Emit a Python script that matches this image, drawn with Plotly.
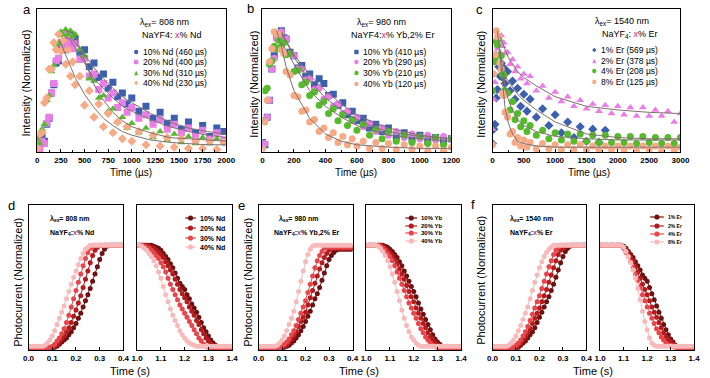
import plotly.graph_objects as go

W, H = 710, 378

# ---------------- Panel a: NaYF4:x% Nd, 808 nm ----------------
t_a = [0, 25, 50, 75, 100, 125, 150, 175, 200, 225, 250, 275, 300, 325, 350, 375, 400, 450, 500, 550,
       600, 650, 700, 750, 800, 850, 900, 950, 1000, 1075, 1150, 1225, 1300, 1375, 1450, 1525, 1600, 1675,
       1750, 1825, 1900, 1975]
a_nd10 = [0.10, 0.04, 0.12, 0.08, 0.22, 0.27, 0.48, 0.55, 0.73, 0.75, 0.88, 0.84, 0.95, 0.90, 0.97, 0.89, 0.93,
          0.82, 0.84, 0.70, 0.73, 0.61, 0.64, 0.52, 0.57, 0.45, 0.48, 0.39, 0.44, 0.33, 0.37, 0.27, 0.32, 0.23,
          0.27, 0.18, 0.24, 0.15, 0.21, 0.12, 0.19, 0.16]
a_nd20 = [0.07, 0.02, 0.08, 0.06, 0.23, 0.28, 0.48, 0.56, 0.75, 0.77, 0.90, 0.85, 0.97, 0.90, 0.95, 0.85, 0.89,
          0.76, 0.77, 0.62, 0.64, 0.51, 0.56, 0.44, 0.48, 0.36, 0.40, 0.32, 0.36, 0.27, 0.30, 0.22, 0.26, 0.18,
          0.22, 0.15, 0.19, 0.12, 0.17, 0.10, 0.15, 0.09]
a_nd30 = [0.10, 0.06, 0.18, 0.22, 0.42, 0.46, 0.66, 0.71, 0.88, 0.89, 0.99, 0.96, 1.01, 0.97, 1.00, 0.95, 0.97,
          0.84, 0.79, 0.60, 0.58, 0.44, 0.46, 0.33, 0.35, 0.24, 0.28, 0.19, 0.23, 0.15, 0.19, 0.11, 0.16, 0.09,
          0.14, 0.07, 0.12, 0.06, 0.11, 0.06, 0.10, 0.07]
a_nd40 = [0.02, 0.14, 0.15, 0.40, 0.44, 0.68, 0.68, 0.90, 0.84, 0.97, 0.83, 0.92, 0.72, 0.84, 0.62, 0.74, 0.55,
          0.62, 0.38, 0.50, 0.28, 0.39, 0.20, 0.31, 0.15, 0.24, 0.10, 0.20, 0.08, 0.16, 0.05, 0.13, 0.04, 0.11,
          0.03, 0.10, 0.02, 0.08, 0.02, 0.08, 0.01, 0.07]
fit_a_t = [230, 300, 350, 400, 500, 600, 700, 800, 900, 1000, 1200, 1400, 1600, 1800, 2000]
fit_a_10 = [None, None, 0.94, 0.90, 0.80, 0.69, 0.60, 0.52, 0.45, 0.40, 0.31, 0.24, 0.19, 0.16, 0.14]
fit_a_20 = [None, 0.95, 0.92, 0.86, 0.73, 0.60, 0.52, 0.44, 0.37, 0.33, 0.26, 0.20, 0.16, 0.13, 0.11]
fit_a_30 = [None, 1.00, 0.99, 0.96, 0.76, 0.55, 0.42, 0.32, 0.25, 0.20, 0.15, 0.11, 0.10, 0.09, 0.08]
fit_a_40 = [0.93, 0.80, 0.70, 0.61, 0.47, 0.36, 0.27, 0.21, 0.16, 0.13, 0.09, 0.07, 0.06, 0.05, 0.05]
labels_a = ["10% Nd (460 µs)", "20% Nd (400 µs)", "30% Nd (310 µs)", "40% Nd (230 µs)"]

# ---------------- Panel b: NaYF4:x% Yb,2% Er, 980 nm ----------------
t_b = [0, 15, 30, 45, 60, 75, 90, 105, 120, 135, 150, 175, 200, 225, 250, 275, 300, 330, 360, 390,
       420, 450, 480, 510, 540, 570, 600, 640, 680, 720, 760, 800, 850, 900, 950, 1000, 1050, 1100, 1150, 1200]
b_yb10 = [0.07, 0.05, 0.28, 0.42, 0.68, 0.79, 0.95, 0.96, 1.00, 0.94, 0.93, 0.82, 0.79, 0.69, 0.71, 0.62, 0.64,
          0.55, 0.60, 0.56, 0.46, 0.47, 0.38, 0.40, 0.30, 0.33, 0.25, 0.27, 0.19, 0.22, 0.16, 0.19, 0.12, 0.15,
          0.10, 0.13, 0.08, 0.11, 0.08, 0.10]
b_yb20 = [0.05, 0.06, 0.28, 0.42, 0.68, 0.77, 0.93, 0.93, 0.99, 0.92, 0.93, 0.81, 0.79, 0.68, 0.68, 0.59, 0.60,
          0.51, 0.52, 0.43, 0.45, 0.37, 0.39, 0.31, 0.33, 0.25, 0.28, 0.20, 0.23, 0.16, 0.19, 0.13, 0.16, 0.11,
          0.14, 0.10, 0.13, 0.09, 0.12, 0.09]
b_yb30 = [0.25, 0.50, 0.52, 0.72, 0.75, 0.87, 0.85, 0.92, 0.87, 0.90, 0.80, 0.81, 0.66, 0.67, 0.55, 0.57, 0.46,
          0.49, 0.38, 0.41, 0.31, 0.35, 0.25, 0.30, 0.21, 0.26, 0.17, 0.22, 0.13, 0.18, 0.10, 0.16, 0.08, 0.13,
          0.07, 0.12, 0.06, 0.11, 0.05, 0.10]
b_yb40 = [0.02, 0.24, 0.42, 0.74, 0.85, 0.99, 0.97, 0.97, 0.84, 0.81, 0.66, 0.63, 0.46, 0.45, 0.33, 0.34, 0.24,
          0.26, 0.16, 0.19, 0.11, 0.15, 0.07, 0.12, 0.05, 0.10, 0.04, 0.08, 0.02, 0.07, 0.02, 0.06, 0.01, 0.05,
          0.01, 0.04, 0.00, 0.04, 0.00, 0.03]
fit_b_t = [90, 120, 150, 200, 300, 400, 500, 600, 700, 800, 1000, 1200]
fit_b_10 = [None, 0.99, 0.92, 0.80, 0.63, 0.50, 0.39, 0.30, 0.24, 0.19, 0.13, 0.10]
fit_b_20 = [None, 0.97, 0.91, 0.78, 0.58, 0.44, 0.34, 0.26, 0.20, 0.16, 0.12, 0.10]
fit_b_30 = [None, 0.90, 0.84, 0.72, 0.50, 0.37, 0.28, 0.21, 0.17, 0.13, 0.10, 0.08]
fit_b_40 = [1.00, 0.87, 0.70, 0.50, 0.27, 0.14, 0.08, 0.05, 0.04, 0.03, 0.02, 0.02]
labels_b = ["10% Yb (410 µs)", "20% Yb (290 µs)", "30% Yb (210 µs)", "40% Yb (120 µs)"]

# ---------------- Panel c: NaYF4:x% Er, 1540 nm ----------------
t_c = [0, 20, 40, 60, 80, 100, 120, 140, 160, 180, 200, 240, 280, 320, 360, 400, 450, 500, 550, 600,
       700, 800, 900, 1000, 1100, 1200, 1300, 1400, 1500, 1600, 1700, 1800, 1900, 2000, 2100, 2200, 2300,
       2400, 2500, 2600, 2700, 2800, 2900, 3000]
c_er1 = [0.06, 0.18, 0.22, 0.44, 0.51, 0.70, 0.62, 0.73, 0.61, 0.69, 0.56, 0.66, 0.50, 0.58, 0.43, 0.52, 0.37,
         0.47, 0.33, 0.43, 0.28, 0.35, 0.21, 0.30, 0.15, 0.24, 0.11, 0.20, 0.08, 0.18, 0.07, 0.17,
         None, None, None, None, None, None, None, None, None, None, None, None]
c_er2 = [0.18, 0.43, 0.57, 0.81, 0.85, 0.96, 0.92, 0.96, 0.87, 0.90, 0.81, 0.82, 0.72, 0.76, 0.66, 0.70, 0.60,
         0.64, 0.56, 0.62, 0.50, 0.54, 0.44, 0.49, 0.41, 0.45, 0.37, 0.42, 0.35, 0.39, 0.33, 0.38, 0.31, 0.37,
         0.30, 0.36, 0.29, 0.36, 0.29, 0.34, 0.29, 0.33, 0.24, 0.31]
c_er4 = [0.50, 0.74, 0.76, 0.91, 0.88, 0.93, 0.80, 0.79, 0.64, 0.63, 0.50, 0.48, 0.34, 0.41, 0.26, 0.31, 0.20,
         0.25, 0.16, 0.21, 0.13, 0.17, 0.10, 0.15, 0.09, 0.14, 0.08, 0.14, 0.08, 0.13, 0.07, 0.13, 0.07, 0.12,
         0.07, 0.12, 0.06, 0.12, 0.07, 0.11, 0.06, 0.11, 0.06, 0.11]
c_er8 = [0.05, 0.64, 0.80, 1.00, 0.95, 0.95, 0.73, 0.68, 0.48, 0.46, 0.32, 0.28, 0.14, 0.16, 0.07, 0.11, 0.04,
         0.09, 0.03, 0.07, 0.02, 0.06, 0.02, 0.05, 0.01, 0.05, 0.01, 0.05, 0.01, 0.04, 0.01, 0.04, 0.01, 0.04,
         0.01, 0.04, 0.00, 0.04, 0.01, 0.04, 0.00, 0.04, 0.01, 0.03]
fit_c_t = [80, 120, 160, 200, 250, 300, 400, 500, 700, 1000, 1500, 2000, 2500, 3000]
fit_c_1 = [None, 0.68, 0.66, 0.62, 0.58, 0.55, 0.47, 0.42, 0.34, 0.24, 0.14, 0.11, 0.10, 0.10]
fit_c_2 = [None, 0.95, 0.90, 0.84, 0.78, 0.74, 0.66, 0.61, 0.54, 0.45, 0.37, 0.34, 0.32, 0.31]
fit_c_4 = [None, 0.84, 0.68, 0.54, 0.43, 0.36, 0.26, 0.21, 0.16, 0.12, 0.10, 0.09, 0.09, 0.09]
fit_c_8 = [1.00, 0.78, 0.52, 0.36, 0.24, 0.16, 0.08, 0.06, 0.04, 0.03, 0.03, 0.03, 0.03, 0.03]
labels_c = ["1% Er (569 µs)", "2% Er (378 µs)", "4% Er (208 µs)", "8% Er (125 µs)"]

# ---------------- Photocurrent panels d, e, f ----------------
t_rise = [0.00, 0.01, 0.02, 0.03, 0.04, 0.05, 0.06, 0.07, 0.08, 0.09, 0.10, 0.11, 0.12, 0.13, 0.14, 0.15,
          0.16, 0.17, 0.18, 0.19, 0.20, 0.21, 0.22, 0.23, 0.24, 0.25, 0.26, 0.27, 0.28, 0.29, 0.30, 0.31,
          0.32, 0.33, 0.34, 0.35, 0.36, 0.37, 0.38, 0.39, 0.40]
t_fall = [1.00, 1.01, 1.02, 1.03, 1.04, 1.05, 1.06, 1.07, 1.08, 1.09, 1.10, 1.11, 1.12, 1.13, 1.14, 1.15,
          1.16, 1.17, 1.18, 1.19, 1.20, 1.21, 1.22, 1.23, 1.24, 1.25, 1.26, 1.27, 1.28, 1.29, 1.30, 1.31,
          1.32, 1.33, 1.34, 1.35, 1.36, 1.37, 1.38, 1.39, 1.40]

d_r10 = [0, 0, 0, 0, 0, 0, 0, 0, 0, 0, 0, .01, .02, .04, .06, .08, .10, .13, .16, .20, .24, .29, .34, .40, .46,
         .52, .58, .65, .72, .79, .86, .92, .96, .99, 1, 1, 1, 1, 1, 1, 1]
d_r20 = [0, 0, 0, 0, 0, 0, 0, 0, 0, 0, .01, .02, .04, .06, .09, .12, .16, .20, .25, .31, .37, .44, .51, .59,
         .67, .75, .83, .90, .95, .98, 1, 1, 1, 1, 1, 1, 1, 1, 1, 1, 1]
d_r30 = [0, 0, 0, 0, 0, 0, 0, 0, 0, .01, .02, .04, .07, .10, .14, .19, .25, .32, .40, .48, .56, .64, .72, .80,
         .87, .93, .97, .99, 1, 1, 1, 1, 1, 1, 1, 1, 1, 1, 1, 1, 1]
d_r40 = [.02, .02, .02, .02, .02, .02, .02, .03, .05, .08, .12, .17, .23, .29, .35, .41, .48, .55, .62, .69,
         .75, .81, .87, .92, .96, .98, 1, 1, 1, 1, 1, 1, 1, 1, 1, 1, 1, 1, 1, 1, 1]
d_f10 = [1, 1, 1, 1, 1, 1, 1, .99, .98, .97, .95, .92, .89, .86, .82, .78, .73, .68, .63, .60, .57, .52, .48,
         .43, .39, .35, .30, .25, .20, .16, .12, .08, .05, .03, .01, 0, 0, 0, 0, 0, 0]
d_f20 = [1, 1, 1, 1, 1, .99, .98, .97, .95, .93, .91, .88, .84, .80, .76, .72, .67, .62, .57, .53, .49, .45,
         .40, .36, .32, .27, .23, .18, .14, .10, .07, .04, .02, .01, 0, 0, 0, 0, 0, 0, 0]
d_f30 = [1, 1, 1, .99, .98, .97, .95, .93, .90, .87, .83, .79, .74, .68, .62, .57, .52, .47, .42, .38, .34,
         .30, .26, .22, .18, .14, .10, .07, .04, .02, .01, 0, 0, 0, 0, 0, 0, 0, 0, 0, 0]
d_f40 = [1, 1, .99, .97, .95, .92, .89, .85, .80, .74, .68, .60, .52, .45, .38, .32, .27, .22, .17, .13, .10,
         .07, .05, .04, .03, .02, .02, .02, .02, .02, .02, .02, .02, .02, .02, .02, .02, .02, .02, .02, .02]

e_r10 = [0, 0, 0, 0, 0, 0, 0, 0, 0, 0, 0, .01, .02, .03, .05, .07, .10, .13, .17, .21, .26, .31, .36, .42, .48,
         .53, .59, .66, .73, .80, .86, .90, .93, .95, .96, .96, .96, .96, .96, .96, .96]
e_r20 = [0, 0, 0, 0, 0, 0, 0, 0, 0, 0, .01, .02, .04, .06, .09, .12, .16, .21, .26, .30, .35, .42, .49, .56,
         .63, .70, .77, .83, .88, .92, .95, .97, .97, .97, .97, .97, .97, .97, .97, .97, .97]
e_r30 = [0, 0, 0, 0, 0, 0, 0, 0, 0, 0, .02, .04, .06, .09, .13, .17, .22, .28, .34, .40, .46, .54, .62, .70,
         .78, .85, .90, .94, .97, .98, .98, .98, .98, .98, .98, .98, .98, .98, .98, .98, .98]
e_r40 = [.02, .02, .02, .02, .02, .02, .02, .02, .03, .05, .08, .12, .17, .23, .29, .36, .45, .55, .65, .75,
         .84, .91, .96, .99, 1, 1, 1, 1, 1, 1, 1, 1, 1, 1, 1, 1, 1, 1, 1, 1, 1]
e_f10 = [1, 1, 1, 1, 1, 1, 1, 1, .99, .98, .96, .94, .91, .88, .84, .80, .75, .70, .65, .60, .55, .50, .44,
         .38, .33, .28, .23, .18, .13, .09, .06, .04, .02, .01, 0, 0, 0, 0, 0, 0, 0]
e_f20 = [1, 1, 1, 1, 1, 1, 1, .99, .97, .95, .93, .90, .86, .82, .77, .72, .67, .61, .55, .50, .45, .39, .34,
         .29, .24, .20, .15, .11, .08, .05, .03, .02, .01, 0, 0, 0, 0, 0, 0, 0, 0]
e_f30 = [1, 1, 1, 1, 1, 1, .99, .97, .95, .92, .89, .85, .80, .74, .68, .62, .56, .50, .44, .39, .34, .29,
         .24, .19, .15, .11, .08, .05, .03, .02, .01, 0, 0, 0, 0, 0, 0, 0, 0, 0, 0]
e_f40 = [1, 1, 1, 1, 1, .99, .97, .94, .90, .85, .79, .72, .64, .55, .46, .37, .29, .22, .16, .11, .08, .05,
         .03, .02, .02, .02, .02, .02, .02, .02, .02, .02, .02, .02, .02, .02, .02, .02, .02, .02, .02]

f_r1 = [0, 0, 0, 0, 0, 0, 0, 0, 0, 0, 0, .01, .03, .05, .07, .10, .13, .16, .20, .25, .30, .35, .40, .45,
        .50, .56, .62, .69, .76, .83, .89, .94, .97, .99, 1, 1, 1, 1, 1, 1, 1]
f_r2 = [0, 0, 0, 0, 0, 0, 0, 0, 0, 0, .01, .03, .05, .08, .11, .15, .19, .24, .29, .34, .39, .45, .51, .57,
        .64, .71, .78, .85, .91, .95, .98, 1, 1, 1, 1, 1, 1, 1, 1, 1, 1]
f_r4 = [0, 0, 0, 0, 0, 0, 0, 0, 0, .01, .03, .05, .08, .12, .16, .21, .27, .33, .39, .45, .51, .58, .65, .72,
        .79, .85, .91, .95, .98, 1, 1, 1, 1, 1, 1, 1, 1, 1, 1, 1, 1]
f_r8 = [.02, .02, .02, .02, .02, .02, .02, .03, .05, .08, .12, .17, .22, .28, .34, .40, .48, .56, .64, .71,
        .78, .84, .89, .93, .96, .98, 1, 1, 1, 1, 1, 1, 1, 1, 1, 1, 1, 1, 1, 1, 1]
f_f1 = [1, 1, 1, 1, 1, 1, 1, 1, 1, 1, .99, .97, .94, .91, .88, .84, .80, .76, .71, .68, .65, .59, .53, .47,
        .41, .35, .29, .23, .18, .13, .09, .06, .03, .01, 0, 0, 0, 0, 0, 0, 0]
f_f2 = [1, 1, 1, 1, 1, 1, 1, 1, 1, 1, .98, .95, .92, .88, .84, .79, .74, .68, .62, .57, .52, .46, .40, .35,
        .30, .25, .20, .15, .11, .08, .06, .04, .02, .01, 0, 0, 0, 0, 0, 0, 0]
f_f4 = [1, 1, 1, 1, 1, 1, 1, 1, 1, 1, .97, .93, .89, .84, .78, .72, .66, .59, .52, .46, .40, .34, .29, .24,
        .19, .15, .11, .08, .05, .03, .03, .02, .01, 0, 0, 0, 0, 0, 0, 0, 0]
f_f8 = [1, 1, 1, 1, 1, 1, 1, 1, 1, 1, .98, .94, .89, .83, .76, .68, .58, .47, .36, .26, .18, .10, .05, .03,
        .02, .02, .02, .02, .02, .02, .02, .02, .02, .02, .02, .02, .02, .02, .02, .02, .02]

labels_d = ["10% Nd", "20% Nd", "30% Nd", "40% Nd"]
labels_e = ["10% Yb", "20% Yb", "30% Yb", "40% Yb"]
labels_f = ["1% Er", "2% Er", "4% Er", "8% Er"]

# ---------------- styling ----------------
TOP_COLORS = ["#3c5fae", "#ea7ee6", "#55bb2c", "#f6aa86"]
BOT_COLORS = ["#6e1111", "#b41b1e", "#e8454b", "#f7baba"]
FIT_COLOR = "#80706e"
FONT = "Liberation Sans"


def px(X):
    return X / W


def py(Y):
    return 1 - Y / H


fig = go.Figure()


def axn(k):
    return ("x" if k == 1 else f"x{k}"), ("y" if k == 1 else f"y{k}")


def add_scatter(k, x, y, color, symbol, size=7):
    xa, ya = axn(k)
    fig.add_trace(go.Scatter(x=x, y=y, mode="markers", xaxis=xa, yaxis=ya, showlegend=False,
                             marker=dict(color=color, symbol=symbol, size=size, line=dict(width=0))))


def add_fit(k, x, y):
    xa, ya = axn(k)
    fig.add_trace(go.Scatter(x=x, y=y, mode="lines", xaxis=xa, yaxis=ya, showlegend=False,
                             line=dict(color=FIT_COLOR, width=1)))


def add_pc(k, x, y, color):
    xa, ya = axn(k)
    fig.add_trace(go.Scatter(x=x, y=y, mode="lines+markers", xaxis=xa, yaxis=ya, showlegend=False,
                             line=dict(color=color, width=1),
                             marker=dict(color=color, symbol="circle", size=5, line=dict(width=0))))


top_sets = [
    (1, t_a, [a_nd10, a_nd20, a_nd30, a_nd40], ["square", "square", "triangle-up", "diamond"],
     fit_a_t, [fit_a_10, fit_a_20, fit_a_30, fit_a_40]),
    (2, t_b, [b_yb10, b_yb20, b_yb30, b_yb40], ["square", "circle", "circle", "circle"],
     fit_b_t, [fit_b_10, fit_b_20, fit_b_30, fit_b_40]),
    (3, t_c, [c_er1, c_er2, c_er4, c_er8], ["diamond", "triangle-up", "circle", "circle"],
     fit_c_t, [fit_c_1, fit_c_2, fit_c_4, fit_c_8]),
]
for k, tx, series, syms, ft, fits in top_sets:
    for ys, col, sym in zip(series, TOP_COLORS, syms):
        add_scatter(k, tx, ys, col, sym)
    for fy in fits:
        add_fit(k, ft, fy)

for k, series in [(4, [d_r10, d_r20, d_r30, d_r40]), (6, [e_r10, e_r20, e_r30, e_r40]),
                  (8, [f_r1, f_r2, f_r4, f_r8])]:
    for ys, col in zip(series, BOT_COLORS):
        add_pc(k, t_rise, ys, col)
for k, series in [(5, [d_f10, d_f20, d_f30, d_f40]), (7, [e_f10, e_f20, e_f30, e_f40]),
                  (9, [f_f1, f_f2, f_f4, f_f8])]:
    for ys, col in zip(series, BOT_COLORS):
        add_pc(k, t_fall, ys, col)

# ---------------- axes ----------------
dom_x = {1: (32, 225), 2: (262, 455), 3: (497, 689), 4: (23, 120), 5: (134, 231),
         6: (258, 354), 7: (368, 465), 8: (497, 593), 9: (607, 703)}
TOP_Y = (9, 152)
BOT_Y = (205, 350)
x_ranges = {1: [0, 2000], 2: [0, 1200], 3: [0, 3000]}
x_dticks = {1: 250, 2: 200, 3: 500}

layout = dict(width=W, height=H, autosize=False, margin=dict(l=0, r=0, t=0, b=0),
              paper_bgcolor="white", plot_bgcolor="white", showlegend=False)
for k in range(1, 10):
    xa, ya = axn(k)
    xk = "xaxis" if k == 1 else f"xaxis{k}"
    yk = "yaxis" if k == 1 else f"yaxis{k}"
    ydom = TOP_Y if k <= 3 else BOT_Y
    xd = dict(domain=[px(dom_x[k][0]), px(dom_x[k][1])], anchor=ya, showline=True, linecolor="black",
              linewidth=1, mirror=True, ticks="inside", ticklen=3, tickwidth=1, tickcolor="black",
              showgrid=False, zeroline=False,
              tickfont=dict(family=FONT, size=8, color="black", weight="bold"))
    yd = dict(domain=[py(ydom[1]), py(ydom[0])], anchor=xa, showline=True, linecolor="black",
              linewidth=1, mirror=True, ticks="", showticklabels=False, showgrid=False, zeroline=False)
    if k <= 3:
        xd.update(range=x_ranges[k], dtick=x_dticks[k], tick0=0,
                  minor=dict(ticks="inside", ticklen=2, tickcolor="black", dtick=x_dticks[k] / 2))
        yd.update(range=[-0.01, 1.18])
    else:
        left = k in (4, 6, 8)
        xd.update(range=[0, 0.4] if left else [1.0, 1.4], dtick=0.1, tick0=0, tickformat=".1f")
        yd.update(range=[-0.017, 1.39])
    layout[xk] = xd
    layout[yk] = yd

annotations = []
shapes = []


def ann(x, y, text, size, anchor="left", angle=0, color="black", bold=False):
    annotations.append(dict(x=px(x), y=py(y), xref="paper", yref="paper", text=text, showarrow=False,
                            xanchor=anchor, yanchor="middle", textangle=angle,
                            font=dict(family=FONT, size=size, color=color,
                                      weight="bold" if bold else "normal")))


def mark(x, y, sym, color, s=2.2):
    x0, x1 = px(x - s), px(x + s)
    y0, y1 = py(y + s), py(y - s)
    xc, yc = px(x), py(y)
    if sym == "circle":
        shapes.append(dict(type="circle", xref="paper", yref="paper", x0=x0, x1=x1, y0=y0, y1=y1,
                           fillcolor=color, line=dict(width=0)))
    elif sym == "square":
        shapes.append(dict(type="rect", xref="paper", yref="paper", x0=x0, x1=x1, y0=y0, y1=y1,
                           fillcolor=color, line=dict(width=0)))
    elif sym == "triangle-up":
        shapes.append(dict(type="path", xref="paper", yref="paper",
                           path=f"M {xc},{y1} L {x0},{y0} L {x1},{y0} Z", fillcolor=color, line=dict(width=0)))
    else:
        shapes.append(dict(type="path", xref="paper", yref="paper",
                           path=f"M {xc},{y1} L {x1},{yc} L {xc},{y0} L {x0},{yc} Z",
                           fillcolor=color, line=dict(width=0)))


XC = "<span style='color:#d6287f'>x</span>"

for letter, x, y in [("a", 21, 9), ("b", 250, 8), ("c", 484, 9), ("d", 6, 205), ("e", 241, 205), ("f", 477, 204)]:
    ann(x, y, letter, 13, anchor="center")

for x, y in [(20, 83), (253, 84), (485, 84)]:
    ann(x, y, "Intensity (Normalized)", 11, anchor="center", angle=-90)
for x in [128, 358, 596]:
    ann(x, 172, "Time (µs)", 10, anchor="center")
for x, y in [(12, 282), (247, 282), (485, 280)]:
    ann(x, y, "Photocurrent (Normalized)", 11, anchor="center", angle=-90)
for x in [127, 361, 600]:
    ann(x, 371, "Time (s)", 11, anchor="center")

ann(135, 23, "λ<sub>ex</sub>= 808 nm", 9)
ann(137, 35, "NaYF4: " + XC + "% Nd", 9)
ann(357, 23, "λ<sub>ex</sub>= 980 nm", 9)
ann(350, 35, "NaYF4:" + XC + "% Yb,2% Er", 9)
ann(600, 22, "λ<sub>ex</sub>= 1540 nm", 9)
ann(607, 34, "NaYF<sub>4</sub>: " + XC + "% Er", 9)

top_leg = [(133, [52, 62, 73, 83], labels_a, ["circle", "square", "triangle-up", "diamond"]),
           (358, [52, 62, 73, 84], labels_b, ["square", "circle", "circle", "circle"]),
           (601, [50, 61, 71, 82], labels_c, ["diamond", "triangle-up", "circle", "circle"])]
for mx, rows, labs, syms in top_leg:
    for yy, lab, sym, col in zip(rows, labs, syms, TOP_COLORS):
        mark(mx, yy, sym, col)
        ann(mx + 5, yy, lab, 8.5)

ann(43, 219, "λ<sub>ex</sub>= 808 nm", 7, bold=True)
ann(43, 233, "NaYF<sub>4</sub>:" + XC + "% Nd", 7, bold=True)
ann(277, 219, "λ<sub>ex</sub>= 980 nm", 7, bold=True)
ann(272, 233, "NaYF<sub>4</sub>:" + XC + "% Yb,2% Er", 7, bold=True)
ann(513, 219, "λ<sub>ex</sub>= 1540 nm", 7, bold=True)
ann(513, 233, "NaYF<sub>4</sub>:" + XC + "% Er", 7, bold=True)

bot_leg = [((183, 194), [218, 228, 238, 247], labels_d, 7),
           ((408, 420), [218, 226, 233, 241], labels_e, 6),
           ((658, 672), [217, 226, 234, 242], labels_f, 5)]
for (lx0, lx1), rows, labs, fs in bot_leg:
    for yy, lab, col in zip(rows, labs, BOT_COLORS):
        shapes.append(dict(type="line", xref="paper", yref="paper", x0=px(lx0), x1=px(lx1),
                           y0=py(yy), y1=py(yy), line=dict(color=col, width=1.2)))
        mark((lx0 + lx1) / 2, yy, "circle", col, s=2.6)
        ann(lx1 + 2, yy, lab, fs, bold=True)

layout["annotations"] = annotations
layout["shapes"] = shapes
fig.update_layout(**layout)
fig.write_html("out.html", config={"displayModeBar": False},
               post_script="document.body.style.margin='0px';document.body.style.overflow='hidden';")
